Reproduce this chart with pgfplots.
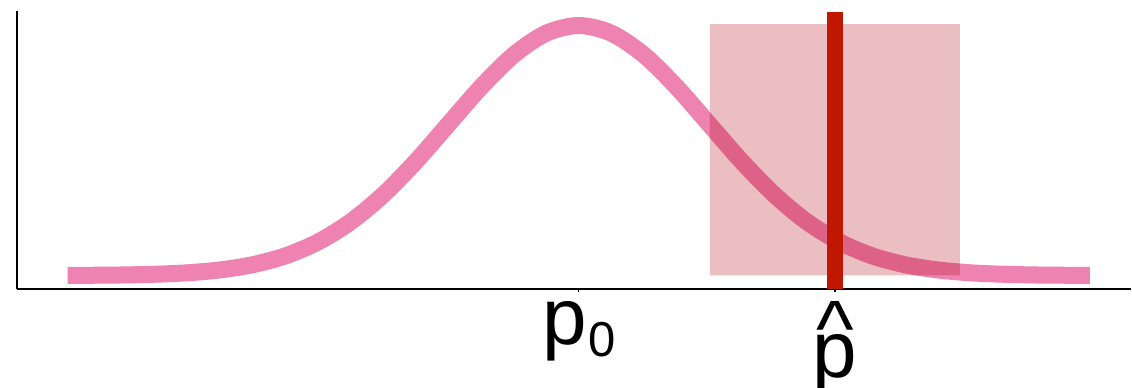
\documentclass[border=0pt]{standalone}
\usepackage{fontspec}
\setmainfont{Liberation Sans}
\usepackage{pgfplots}
\pgfplotsset{compat=1.18}

\definecolor{curvepink}{RGB}{238,130,176}
\definecolor{boxred}{RGB}{180,15,30}
\definecolor{linered}{RGB}{192,24,0}

% tick labels: p_0 and p-hat
\newcommand\pzero{p\kern0.6pt\raisebox{-6pt}{\fontsize{24.5}{26}\selectfont 0}}
\newcommand\phat{\ooalign{\hidewidth\raisebox{10.3pt}{\textasciicircum}\hidewidth\cr p\cr}}

\begin{document}
\begin{tikzpicture}
\begin{axis}[
    scale only axis,
    width=557pt,
    height=139pt,
    xmin=-4.32, xmax=4.246,
    ymin=-0.054, ymax=1.058,
    axis lines=left,
    x axis line style={-},
    y axis line style={-},
    axis line style={line width=1pt, black},
    ytick=\empty,
    xtick={0,1.97},
    xticklabels={\pzero,\phat},
    tick align=outside,
    major tick length=1.75pt,
    every tick/.style={black, line width=0.6pt},
    xticklabel style={font=\fontsize{40}{44}\selectfont, anchor=north, inner sep=0pt, yshift=-4.5pt},
]
% null distribution
\addplot[curvepink, line width=8.5pt, smooth] coordinates {
    (-3.93,0.00044) (-3.75,0.00088) (-3.5,0.00219) (-3.25,0.00509)
    (-3.0,0.01111) (-2.75,0.02279) (-2.5,0.04394) (-2.25,0.07956)
    (-2.0,0.13534) (-1.75,0.21627) (-1.5,0.32465) (-1.25,0.45783)
    (-1.0,0.60653) (-0.75,0.75484) (-0.5,0.88250) (-0.25,0.96923)
    (0,1)
    (0.25,0.96923) (0.5,0.88250) (0.75,0.75484) (1.0,0.60653)
    (1.25,0.45783) (1.5,0.32465) (1.75,0.21627) (2.0,0.13534)
    (2.25,0.07956) (2.5,0.04394) (2.75,0.02279) (3.0,0.01111)
    (3.25,0.00509) (3.5,0.00219) (3.75,0.00088) (3.93,0.00044)
};
% interval box
\addplot[draw=none, fill=boxred, fill opacity=0.27] coordinates {
    (1.008,0) (1.008,1.005) (2.93,1.005) (2.93,0)
} \closedcycle;
% observed value
\addplot[linered, line width=8.35pt] coordinates {(1.97,-0.06) (1.97,1.053)};
\end{axis}
\pgfresetboundingbox
\path[use as bounding box]
    ([xshift=-8.5pt,yshift=5.5pt]current axis.north west)
    rectangle ([xshift=0.5pt,yshift=-49.5pt]current axis.south east);
\end{tikzpicture}
\end{document}
